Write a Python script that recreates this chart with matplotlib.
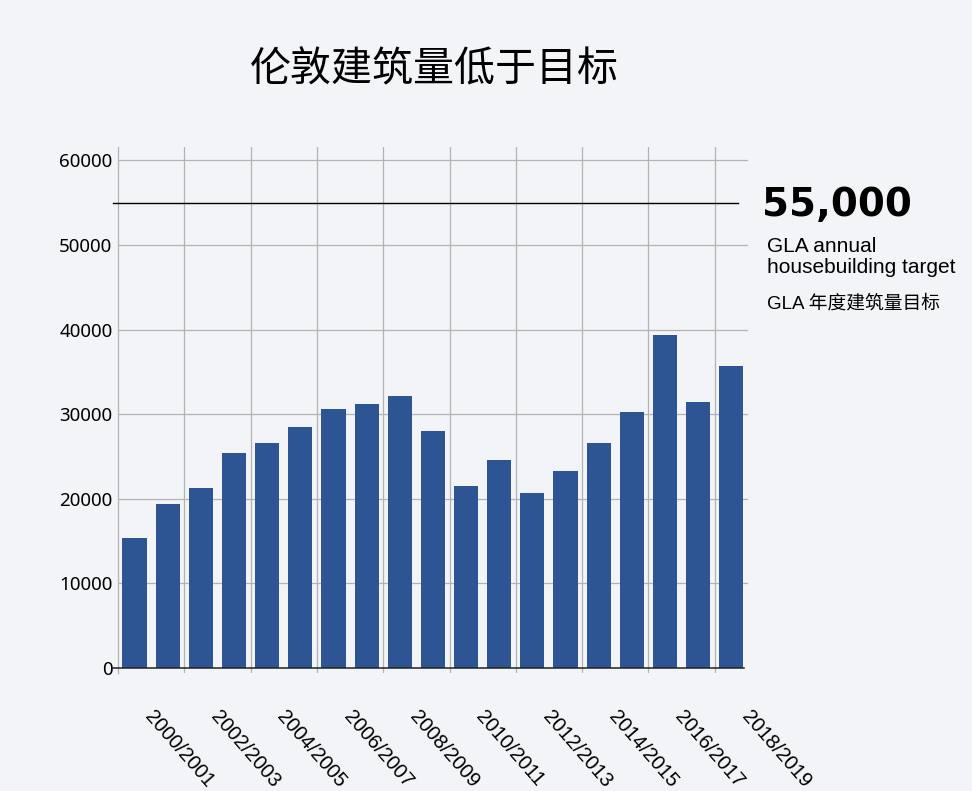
import numpy as np
import matplotlib.pyplot as plt

plt.rcParams['font.family'] = ['Liberation Sans', 'Noto Sans CJK SC', 'DejaVu Sans']

# 伦敦每年新建住房数量
years = ["2000/2001", "2001/2002", "2002/2003", "2003/2004", "2004/2005",
         "2005/2006", "2006/2007", "2007/2008", "2008/2009", "2009/2010",
         "2010/2011", "2011/2012", "2012/2013", "2013/2014", "2014/2015",
         "2015/2016", "2016/2017", "2017/2018", "2018/2019"]
homes = [15400, 19400, 21300, 25400, 26600, 28500, 30650, 31250, 32100,
         28050, 21550, 24600, 20700, 23300, 26600, 30300, 39400, 31500, 35750]
target = 55000
yticks = [0, 10000, 20000, 30000, 40000, 50000, 60000]

bg = "#f3f4f7"
fig = plt.figure(figsize=(9.72, 7.91), dpi=100, facecolor=bg)
ax = fig.add_axes([0.1214, 0.1492, 0.648, 0.665])
ax.set_facecolor(bg)

x = np.arange(len(years))
ax.bar(x, homes, width=0.73, color="#2e5593", zorder=3)

ax.set_xlim(-0.5, len(years) - 0.5)
ax.set_ylim(-600, 61600)

# сетка
for gx in np.arange(1.5, len(years) - 1, 2):
    ax.axvline(gx, color="#b3b3b3", lw=0.9, zorder=1)
for gy in yticks[1:]:
    ax.axhline(gy, color="#b3b3b3", lw=0.9, zorder=1)

for s in ["top", "right", "bottom"]:
    ax.spines[s].set_visible(False)
ax.spines["left"].set_color("#b3b3b3")
ax.spines["left"].set_linewidth(0.9)

# нулевая линия и линия цели
ax.plot([-0.65, len(years) - 0.63], [0, 0], color="#222222", lw=1.1,
        clip_on=False, zorder=4)
ax.plot([-0.65, len(years) - 0.8], [target, target], color="black", lw=1.0,
        clip_on=False, zorder=4)

ax.set_yticks(yticks)
ax.set_yticklabels([str(v) for v in yticks], fontsize=13.5, family="Noto Sans")
ax.tick_params(axis="y", length=0, pad=4)
ax.set_xticks([])

for i in range(0, len(years), 2):
    ax.text(i + 0.62, -4600, years[i], rotation=-49, rotation_mode="anchor",
            ha="left", va="top", fontsize=14.5, clip_on=False)

fig.text(0.447, 0.912, "伦敦建筑量低于目标", ha="center", va="center",
         fontsize=29.5, family=["Noto Sans CJK SC"])

fig.text(0.784, 0.741, "55,000", fontsize=28, fontweight="bold",
         ha="left", va="center", family="DejaVu Sans")
fig.text(0.789, 0.675, "GLA annual\nhousebuilding target", fontsize=15,
         ha="left", va="center", linespacing=1.1)
fig.text(0.789, 0.616, "GLA 年度建筑量目标", fontsize=13.5,
         ha="left", va="center", family=["Liberation Sans", "Noto Sans CJK SC"])

fig.savefig("out.png", dpi=100, facecolor=bg)
